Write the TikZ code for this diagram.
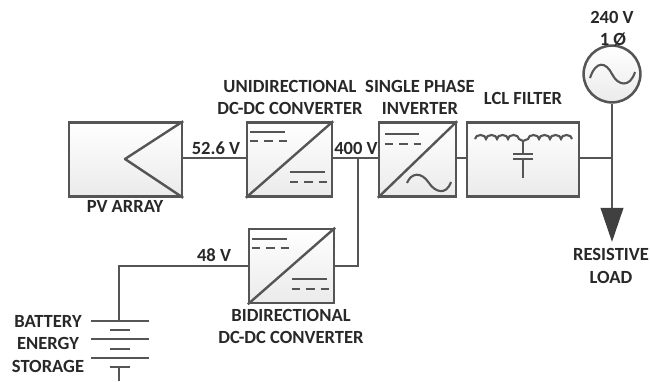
\documentclass[tikz,border=0pt]{standalone}
\usepackage{fontspec}
\setmainfont{Carlito}
\usepackage{tikz}
\usetikzlibrary{arrows.meta, positioning, calc}
\definecolor{wiregray}{RGB}{85,85,85}
\definecolor{textgray}{RGB}{40,40,40}

\begin{document}
\begin{tikzpicture}[
        x=0.025cm, y=-0.025cm,
        block/.style={rectangle, draw=wiregray, line width=1.8pt, top color=white, bottom color=black!8,
                      minimum height=1.85cm, inner sep=0pt},
        label/.style={font=\fontsize{13.2}{15}\selectfont\bfseries, text=textgray, inner sep=0pt, align=center},
        wire/.style={draw=wiregray, line width=1.7pt},
        thinwire/.style={draw=wiregray, line width=1.5pt},
        dashwire/.style={draw=wiregray, line width=1.5pt, dash pattern=on 6pt off 4.2pt}
    ]
        \useasboundingbox (0,0) rectangle (650,381);

        \node[block, minimum width=2.82cm] (pv) at (125.5,159.5) {};
        \node[block, minimum width=2.12cm] (uni) at (289.5,159.5) {};
        \node[block, minimum width=1.92cm] (inv) at (417.5,159.5) {};
        \node[block, minimum width=2.8cm] (lcl) at (523,159.5) {};
        \node[block, minimum width=2.12cm] (bidir) at (291.5,266) {};
        \node[circle, draw=wiregray, line width=1.8pt, top color=white, bottom color=black!8,
              minimum size=1.42cm, inner sep=0pt] (grid) at (612,74) {};

        \coordinate (busjoin) at (358,158);
        \coordinate (gridjoin) at (612,158);
        \coordinate (battcorner) at (119,266);
        \coordinate (batttop) at (119,321);
        \coordinate (battend) at (119,381);
        \coordinate (loadtip) at (612,242);

        % Wires
        \draw[wire] (pv.east |- busjoin) -- (uni.west |- busjoin);
        \draw[wire] (uni.east |- busjoin) -- (inv.west |- busjoin);
        \draw[wire] (inv.east |- busjoin) -- (lcl.west |- busjoin);
        \draw[wire] (lcl.east |- gridjoin) -- (gridjoin);
        \draw[wire, -{Triangle[length=0.85cm, width=0.56cm, color=wiregray!75!black]}] (grid.south) -- (loadtip);
        \draw[wire] (busjoin) |- (bidir.east);
        \draw[wire] (bidir.west) -- (battcorner) -- (batttop);

        % PV symbol
        \draw[wire, line join=round] (pv.north east) -- (125,159) -- (pv.south east);

        % Converter symbols
        \foreach \conv in {uni, bidir} {
            \draw[wire] (\conv.south west) -- (\conv.north east);
            \draw[thinwire] ($(\conv.north west)+(4,11)$) -- ++(35,0);
            \draw[dashwire] ($(\conv.north west)+(4,20)$) -- ++(37,0);
            \draw[thinwire] ($(\conv.north west)+(44,51)$) -- ++(35,0);
            \draw[dashwire] ($(\conv.north west)+(44,61)$) -- ++(37,0);
        }

        % Inverter symbol
        \draw[wire] (inv.south west) -- (inv.north east);
        \draw[thinwire] ($(inv.north west)+(7,13)$) -- ++(34,0);
        \draw[dashwire] ($(inv.north west)+(7,23)$) -- ++(36,0);
        \draw[thinwire] (407,183) .. controls (411,173) and (421,171) .. (429,183)
            .. controls (435,192) and (446,196) .. (451,182);

        % Filter symbol
        \draw[thinwire] (475,139)
            \foreach \bump in {1,2,3,4} {arc[start angle=180, end angle=360, x radius=5.5, y radius=4]}
            -- (523,141) -- (528,139)
            \foreach \bump in {1,2,3,4} {arc[start angle=180, end angle=360, x radius=5.5, y radius=4]};
        \draw[thinwire] (523,141) -- (523,154);
        \draw[wire] (513,154) -- (533,154);
        \draw[wire] (513,159) -- (533,159);
        \draw[thinwire] (523,159) -- (523,178);

        % Source symbol
        \draw[thinwire] (590,78) .. controls (596,60) and (606,62) .. (612,74)
            .. controls (618,86) and (630,88) .. (635,72);

        % Battery
        \foreach \ypos in {321,339,358} {
            \draw[wire] (91,\ypos) -- (149,\ypos);
        }
        \foreach \ypos in {330,349,367} {
            \draw[wire] (110,\ypos) -- (130,\ypos);
        }
        \draw[wire] (119,367) -- (battend);

        % Labels
        \node[label] (unitext) at (290,86) {UNIDIRECTIONAL};
        \node[label] (unitext2) at (290,108) {DC-DC CONVERTER};
        \node[label] (invtext) at (420,86) {SINGLE PHASE};
        \node[label] (invtext2) at (420,108) {INVERTER};
        \node[label] (lcltext) at (523,98) {LCL FILTER};
        \node[label] (gridtext) at (612,17) {240 V};
        \node[label] (gridtext2) at (613,40) {1 Ø};
        \node[label] (pvtext) at (125,206) {PV ARRAY};
        \node[label] (pvvolt) at (216,148) {52.6 V};
        \node[label] (busvolt) at (356,148) {400 V};
        \node[label] (battvolt) at (214,255) {48 V};
        \node[label] (bidirtext) at (291,315) {BIDIRECTIONAL};
        \node[label] (bidirtext2) at (291,337) {DC-DC CONVERTER};
        \node[label] (loadtext) at (611,254) {RESISTIVE};
        \node[label] (loadtext2) at (611,277) {LOAD};
        \node[label] (batttext) at (48,321) {BATTERY};
        \node[label] (batttext2) at (48,343) {ENERGY};
        \node[label] (batttext3) at (48,366) {STORAGE};
    \end{tikzpicture}
\end{document}
